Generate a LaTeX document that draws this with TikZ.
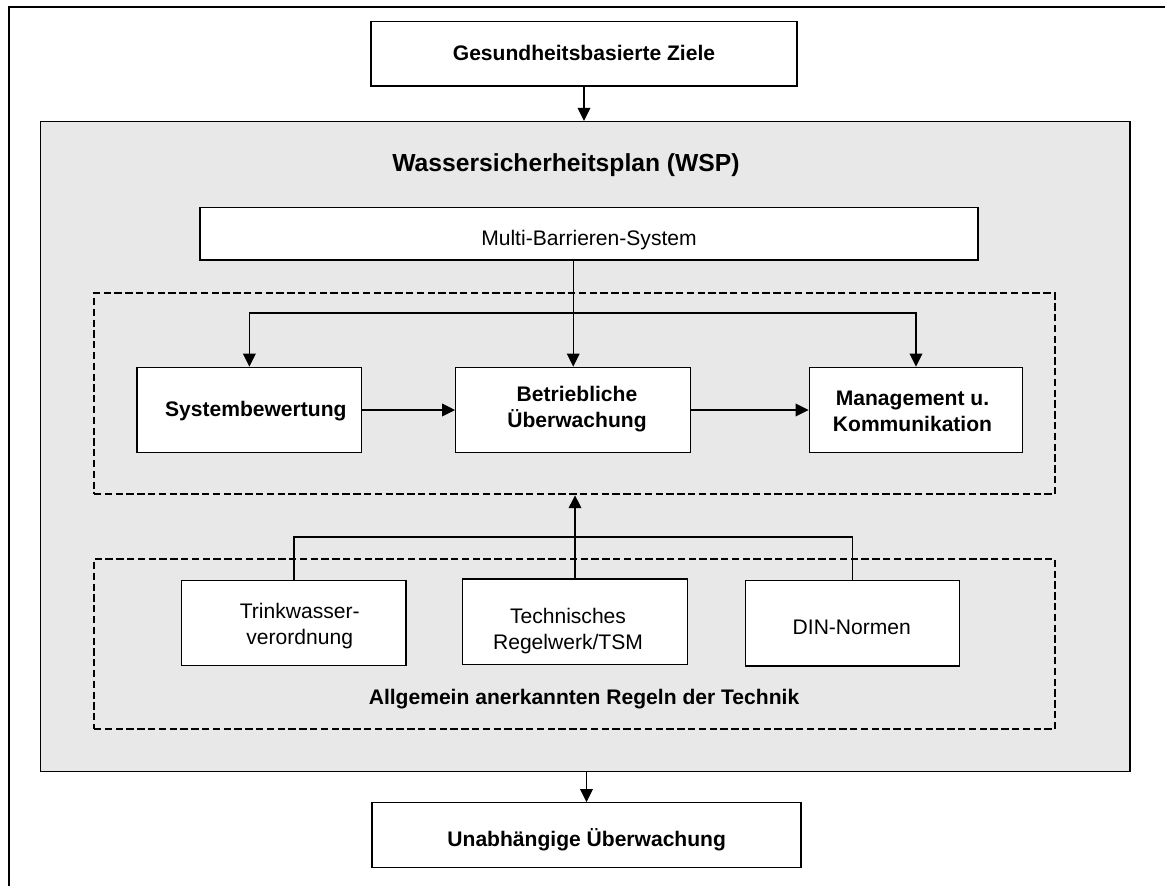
\documentclass[tikz,border=0pt]{standalone}
\usepackage{fontspec}
\setmainfont{Liberation Sans}
\usetikzlibrary{arrows.meta,fit,calc}
\definecolor{graybg}{RGB}{232,232,232}
\begin{document}
\begin{tikzpicture}[x=0.75pt,y=-0.75pt,
  box/.style={draw=black,line width=1pt,fill=white,inner sep=0pt},
  dbox/.style={draw=black,line width=1.4pt,dash pattern=on 5.5pt off 2.6pt,inner sep=0pt},
  wspbox/.style={draw=black,line width=1.1pt,fill=graybg,inner sep=0pt},
  arr/.style={line width=1pt,-{Triangle[length=9.75pt,width=9.5pt]}},
  ln/.style={line width=1pt},
  lbl/.style={anchor=base,inner sep=0pt,font=\fontsize{15.8}{18.8}\selectfont,align=center},
  blbl/.style={lbl,font=\fontsize{15.8}{18.8}\selectfont\bfseries},
]
\useasboundingbox (0,0) rectangle (1165,886);
\draw[line width=1.5pt] (8.5,886) -- (8.5,7) -- (1165,7);

% top box
\node[box,fit={(371,21.7)(797,86)}] (ziele) {};
\node[blbl] (tziele) at (584,60) {Gesundheitsbasierte Ziele};

% WSP grey box
\node[wspbox,fit={(40.7,121.7)(1130,771.7)}] (wsp) {};
\node[lbl,font=\fontsize{18.5}{22}\selectfont\bfseries] (twsp) at (566,171.7) {Wassersicherheitsplan (WSP)};

% Multi-Barrieren-System
\node[box,fit={(200,207.3)(978,260)}] (mbs) {};
\node[lbl] (tmbs) at (589,245) {Multi-Barrieren-System};

% dashed groups
\node[dbox,fit={(94,293.3)(1055,494.3)}] (grpA) {};
\node[dbox,fit={(94,559)(1055,729.3)}] (grpB) {};

% middle row
\node[box,fit={(137,367.3)(361.7,452.7)}] (sys) {};
\node[blbl] (tsys) at (255.8,416) {Systembewertung};
\node[box,fit={(455.7,367.3)(690.7,452.7)}] (betr) {};
\node[blbl] (tbetr) at (577,427) {Betriebliche\\Überwachung};
\node[box,fit={(809.3,367.3)(1022.7,452.7)}] (mgmt) {};
\node[blbl] (tmgmt) at (912.5,431) {Management u.\\Kommunikation};

% bottom row
\node[box,fit={(181.7,580.7)(406,665.7)}] (trink) {};
\node[lbl] (ttrink) at (299.7,644) {Trinkwasser-\\verordnung};
\node[box,fit={(462.7,579)(687.3,664.3)}] (tech) {};
\node[lbl] (ttech) at (568,649) {Technisches\\Regelwerk/TSM};
\node[box,fit={(745.7,580.7)(959.3,666)}] (din) {};
\node[lbl] (tdin) at (851.8,634.3) {DIN-Normen};
\node[blbl] (tallg) at (584,704) {Allgemein anerkannten Regeln der Technik};

% bottom box
\node[box,fit={(372,802.7)(801,867.3)}] (unab) {};
\node[blbl] (tunab) at (586.7,846) {Unabhängige Überwachung};

% connectors
\draw[arr] (ziele.south) -- (ziele.south |- wsp.north);
\draw[arr] (mbs.south -| betr.north) -- (betr.north);
\coordinate (j1) at ($(betr.north)+(0,-53.6)$);
\draw[arr] (j1) -| (sys.north);
\draw[arr] (j1) -| (mgmt.north);
\draw[arr] (sys.east) -- (betr.west);
\draw[arr] (betr.east) -- (mgmt.west);

\coordinate (j2) at ($(tech.north)+(0,-41.3)$);
\draw[ln] (trink.north) |- (j2) -| (din.north);
\draw[arr] (tech.north) -- (tech.north |- grpA.south);

\draw[arr] (unab.north |- wsp.south) -- (unab.north);
\end{tikzpicture}
\end{document}
